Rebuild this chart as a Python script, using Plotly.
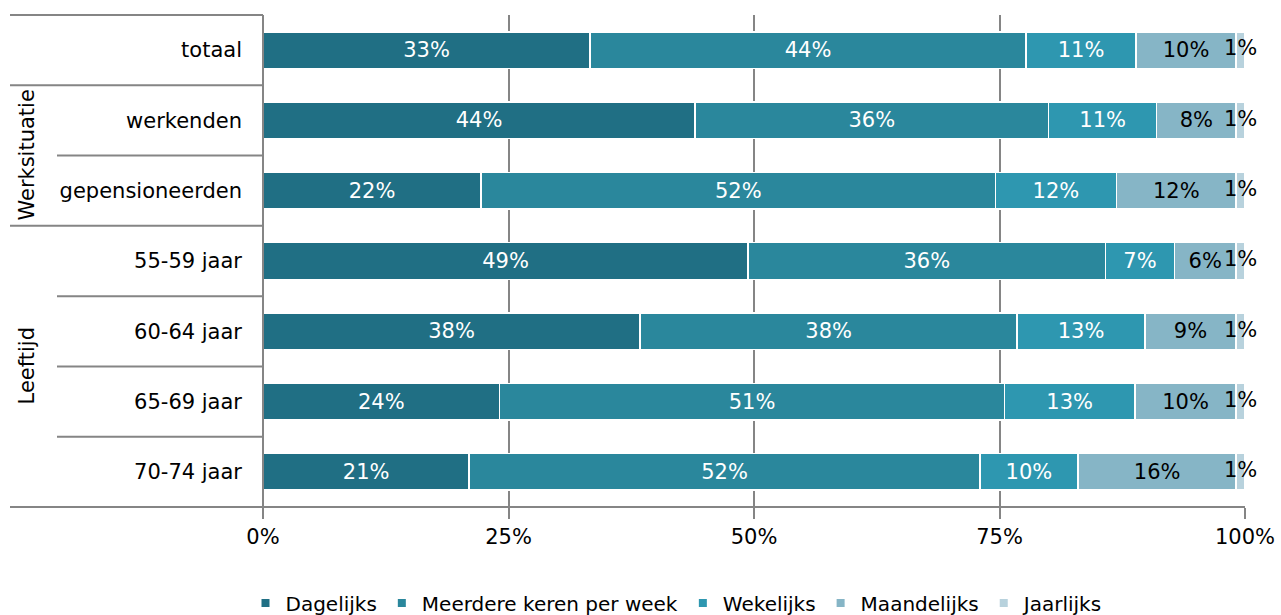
import plotly.graph_objects as go

categories = ["totaal", "werkenden", "gepensioneerden", "55-59 jaar", "60-64 jaar", "65-69 jaar", "70-74 jaar"]
series_names = ["Dagelijks", "Meerdere keren per week", "Wekelijks", "Maandelijks", "Jaarlijks"]
dagelijks = [33.3, 44.0, 22.2, 49.4, 38.4, 24.1, 21.0]
meerdere = [44.4, 36.0, 52.4, 36.4, 38.4, 51.4, 52.0]
wekelijks = [11.2, 11.0, 12.3, 7.0, 13.0, 13.3, 10.0]
maandelijks = [10.2, 8.1, 12.2, 6.3, 9.3, 10.3, 16.1]
jaarlijks = [0.9, 0.9, 0.9, 0.9, 0.9, 0.9, 0.9]
tick_vals = [0, 25, 50, 75, 100]
tick_text = ["0%", "25%", "50%", "75%", "100%"]
groups = [("Werksituatie", 1.5), ("Leeftijd", 4.5)]

colors = ["#206f84", "#2a879c", "#2e97b0", "#86b5c6", "#b8d2dd"]
text_colors = ["white", "white", "white", "black", "black"]
FONT = "DejaVu Sans, Verdana, sans-serif"
GRID = "#858585"
FS = 21

all_series = [dagelijks, meerdere, wekelijks, maandelijks, jaarlijks]

fig = go.Figure()
for name, vals, col, tcol in zip(series_names, all_series, colors, text_colors):
    last = name == "Jaarlijks"
    fig.add_trace(go.Bar(
        y=categories, x=vals, name=name, orientation="h",
        marker=dict(color=col, line=dict(color="white", width=1.5)),
        width=0.52,
        text=None if last else [f"{v:.0f}%" for v in vals],
        textposition="none" if last else "inside",
        insidetextanchor="middle",
        textfont=dict(color=tcol, size=FS, family=FONT),
        showlegend=False, hoverinfo="skip",
    ))

# labels for the tiny last segment, centred on it
base = [100 - v for v in jaarlijks]
fig.add_trace(go.Scatter(
    y=categories, x=[b + v / 2 for b, v in zip(base, jaarlijks)],
    mode="text", text=[f"{v:.0f}%" for v in jaarlijks],
    textfont=dict(color="black", size=FS, family=FONT),
    cliponaxis=False,
    showlegend=False, hoverinfo="skip",
))

# legend entries
for name, col in zip(series_names, colors):
    fig.add_trace(go.Scatter(
        x=[None], y=[None], mode="markers", name=name,
        marker=dict(symbol="square", size=8, color=col),
    ))

W, H = 1281, 615
L, R, T, B = 263, 36, 15, 108
pw = W - L - R
ph = H - T - B

def px_to_paper_x(px):
    return (px - L) / pw

shapes = []
shapes.append(dict(type="line", xref="paper", yref="paper", x0=px_to_paper_x(10), x1=0, y0=1, y1=1,
                   line=dict(color=GRID, width=2)))
shapes.append(dict(type="line", xref="paper", yref="paper", x0=0, x1=0, y0=1, y1=-11 / ph,
                   line=dict(color=GRID, width=2)))
full_sep = {0.5, 2.5}
for i in range(len(categories) - 1):
    yv = i + 0.5
    x0 = px_to_paper_x(10) if yv in full_sep else px_to_paper_x(57)
    shapes.append(dict(type="line", xref="paper", yref="y", x0=x0, x1=0, y0=yv, y1=yv,
                       line=dict(color=GRID, width=2)))
shapes.append(dict(type="line", xref="paper", yref="paper", x0=px_to_paper_x(10), x1=1, y0=0, y1=0,
                   line=dict(color=GRID, width=2)))

annotations = []
for label, yc in groups:
    annotations.append(dict(
        text=label, xref="paper", yref="y", x=px_to_paper_x(27), y=yc,
        textangle=-90, showarrow=False, xanchor="center", yanchor="middle",
        font=dict(size=FS, family=FONT, color="black"),
    ))

fig.update_layout(
    width=W, height=H,
    margin=dict(l=L, r=R, t=T, b=B, pad=0, autoexpand=False),
    paper_bgcolor="white", plot_bgcolor="white",
    barmode="stack", bargap=0.48,
    font=dict(family=FONT, size=FS, color="black"),
    xaxis=dict(range=[0, 100], tickvals=tick_vals, ticktext=tick_text,
               showgrid=True, gridcolor=GRID, gridwidth=2,
               zeroline=False, showline=False, automargin=False,
               ticks="outside", ticklen=11, tickwidth=2, tickcolor=GRID,
               tickfont=dict(size=FS, family=FONT), fixedrange=True),
    yaxis=dict(categoryorder="array", categoryarray=categories,
               range=[len(categories) - 0.5, -0.5], automargin=False,
               showgrid=False, zeroline=False, showline=False,
               ticks="", ticklabelstandoff=20,
               tickfont=dict(size=FS, family=FONT), fixedrange=True),
    legend=dict(orientation="h", traceorder="normal",
                x=677 / W, xref="container", xanchor="center",
                y=(H - 603) / H, yref="container", yanchor="middle",
                font=dict(size=20, family=FONT), itemwidth=30,
                tracegroupgap=0),
    shapes=shapes, annotations=annotations,
)

fig.write_html(
    "out.html",
    config={"displayModeBar": False},
    post_script="document.body.style.margin='0';document.body.style.overflow='hidden';",
)
